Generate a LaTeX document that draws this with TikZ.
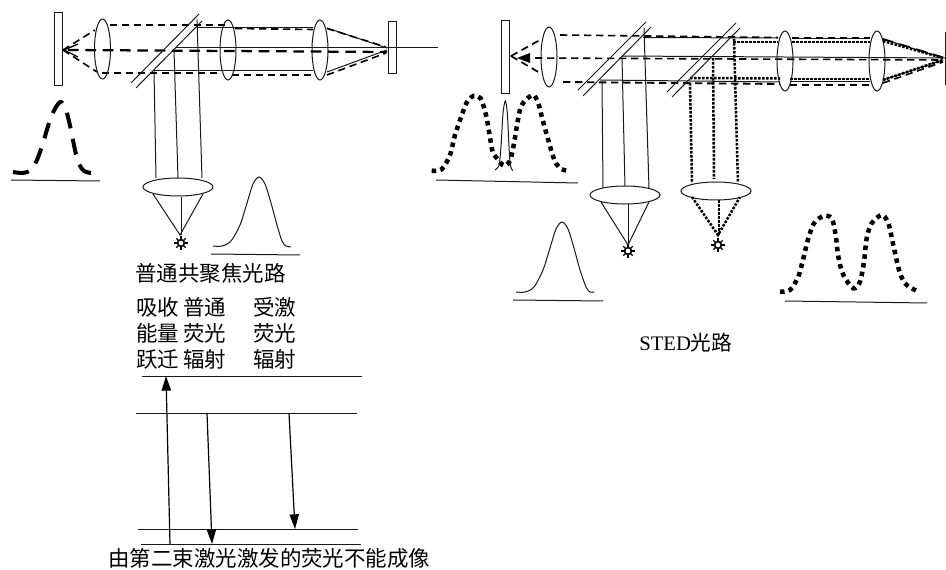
\documentclass[tikz,border=0pt]{standalone}
\usepackage{fontspec}
\setmainfont{Liberation Serif}
\newfontfamily\cjk{Noto Sans CJK SC}[Scale=1]
\usetikzlibrary{arrows.meta}
\tikzset{
  ln/.style={line width=0.75pt,draw=black!90},
  lens/.style={ln,fill=white},
  dsh/.style={line width=1.2pt,dash pattern=on 5.5pt off 3.5pt},
  dshb/.style={line width=1.7pt,dash pattern=on 8pt off 5pt},
  dot/.style={line width=1.9pt,dash pattern=on 1.9pt off 1.1pt},
  bigdash/.style={line width=3pt,dash pattern=on 12pt off 8pt},
  bigdot/.style={line width=3.4pt,dash pattern=on 3.4pt off 3.2pt},
  lab/.style={inner sep=0pt,anchor=west,font=\fontsize{16.1pt}{18pt}\cjk},
  arr/.style={line width=0.9pt,-{Triangle[length=11pt,width=7pt]}},
}
\newcommand{\mysun}[1]{%
  \foreach \ang in {0,45,...,315}{\draw[line width=1pt] #1 ++(\ang:3) -- ++(\ang:3.6);}
  \draw[line width=1.2pt,fill=white] #1 circle (3.4);
}
\begin{document}
\begin{tikzpicture}[x=0.75pt,y=-0.75pt]
\useasboundingbox (0,0) rectangle (946,570);
% ---------- left system
\draw[ln,fill=white] (54.5,12.5) rectangle (62.5,85.5);
\draw[ln,fill=white] (388,22) rectangle (396,74);
\draw[ln] (175,48) -- (438,48);
\draw[ln] (197,28) -- (313,28);
\draw[ln] (327,28) -- (387,48);
\draw[ln] (153,71) -- (313,71);
\draw[ln] (327,72) -- (387,50);
\draw[dsh] (110,25) -- (225,25);
\draw[dsh] (235,28.5) -- (313,29.5);
\draw[dsh] (327,28.5) -- (386,47);
\draw[dsh] (102,73) -- (220,73);
\draw[dsh] (232,75) -- (313,75);
\draw[dsh] (327,75) -- (386,53);
\draw[dshb] (68,50) -- (387,52);
\draw[dsh] (63,50) -- (95,30);
\draw[dsh] (63,50) -- (97,72);
\draw[line width=1pt] (78,44) -- (64,50) -- (78,57);
\draw[ln] (131,83) -- (199,14);
\draw[ln] (136,88) -- (202,21);
\draw[ln] (154,71) -- (156,178);
\draw[ln] (174,50) -- (178,178);
\draw[ln] (197,20) -- (202,178);
\draw[ln] (102.5,49) ellipse (8 and 30);
\draw[ln] (228,50) ellipse (8 and 30);
\draw[ln] (320,50) ellipse (8 and 30);
\draw[lens] (178,187) ellipse (35 and 9);
\draw[ln] (153,194) -- (180,235) -- (203,194);
\draw[ln] (181,197) -- (181,235);
\mysun{(181,243)}
% dashed gaussian
\draw[bigdash] plot[smooth] coordinates {(13,172) (23,173) (31,170) (37,160) (43,143) (50,120) (56,107) (61,102) (66,110) (71,130) (75,150) (79,164) (84,171) (91,173)};
\draw[ln] (11,180) -- (100,181);
% solid gaussian
\draw[ln] plot[smooth] coordinates {(213,246) (222,246) (231,241) (240,225) (247,203) (253,184) (259,177) (265,184) (271,203) (277,225) (282,241) (286,246) (291,247)};
\draw[ln] (211,254) -- (300,255);
% ---------- right system
\draw[ln,fill=white] (501,20.5) rectangle (509.5,94);
\draw[ln] (945,33) -- (946,33) (945,33) -- (945,85) -- (946,85);
\draw[ln] (622,56) -- (945,58);
\draw[ln] (643,37.5) -- (778,38);
\draw[ln] (792,39) -- (870,39);
\draw[ln] (883,39) -- (943,58);
\draw[ln] (600,80) -- (780,82);
\draw[ln] (790,82) -- (870,82);
\draw[ln] (883,80) -- (943,60);
\draw[dsh] (560,35) -- (778,37.5);
\draw[dsh] (792,38) -- (870,38);
\draw[dshb,line width=1.3pt] (883,39) -- (945,58);
\draw[dsh] (535,58) -- (943,60);
\draw[dsh,line width=1.4pt] (563,82) -- (780,84);
\draw[dsh,line width=1.4pt] (790,85) -- (870,85);
\draw[dsh] (883,83) -- (943,62);
\draw[dsh,line width=1.3pt] (511,56) -- (540,40);
\draw[dsh,line width=1.3pt] (511,56) -- (540,73);
\fill (517,58) -- (530,53) -- (530,63) -- cycle;
\draw[dot] (733,42) -- (778,42);
\draw[dot] (792,42) -- (870,42);
\draw[dot] (883,41) -- (943,58);
\draw[dot] (690,78) -- (780,78.5);
\draw[dot] (790,79) -- (870,79);
\draw[dot] (883,80) -- (943,60);
\draw[ln] (578,90) -- (646,22);
\draw[ln] (583,96) -- (651,27);
\draw[ln] (667,92) -- (736,23);
\draw[ln] (672,97) -- (740,28);
\draw[ln] (602,82) -- (603,188);
\draw[ln] (622,58) -- (625,187);
\draw[ln] (644,28) -- (649,188);
\draw[dot] (690,83) -- (692,183);
\draw[dot] (713,58) -- (714,179);
\draw[dot] (734,39) -- (738,183);
\draw[ln] (549,57) ellipse (8 and 30);
\draw[ln] (785,61) ellipse (8 and 30);
\draw[ln] (877,61) ellipse (8 and 30);
\draw[lens] (625,195) ellipse (35 and 9);
\draw[ln] (601,202) -- (628,245) -- (649,202);
\draw[ln] (628,204) -- (628,245);
\mysun{(628,251)}
\draw[lens] (716,191) ellipse (35 and 9);
\draw[dot] (692,197) -- (718,235) -- (740,197);
\draw[dot] (719,200) -- (719,235);
\mysun{(718,245)}
% left double hump
\begin{scope}[shift={(430,0)},xscale=1/3,yscale=1/3]
\draw[bigdot] plot[smooth] coordinates {(5,512) (35,508) (60,465) (75,405) (92,355) (110,308) (130,288) (152,295) (168,345) (178,400) (188,455) (205,480) (222,497) (240,482) (252,430) (262,370) (272,322) (287,300) (310,285) (325,310) (338,360) (352,410) (367,462) (378,490) (395,508) (418,512)};
\draw[ln] plot[smooth] coordinates {(195,510) (207,495) (213,440) (219,340) (226,303) (232,340) (237,440) (241,495) (248,512)};
\end{scope}
\draw[ln] (436,180) -- (578,183);
% solid gaussian 2
\draw[ln] plot[smooth] coordinates {(516,292) (525,292) (534,287) (543,270) (550,248) (556,229) (562,222) (568,229) (574,248) (580,270) (586,287) (590,292) (594,292)};
\draw[ln] (513,300) -- (603,301);
% right double hump
\begin{scope}[shift={(670,0)},xscale=1/3,yscale=1/3]
\draw[bigdot] plot[smooth] coordinates {(330,875) (360,870) (385,830) (400,775) (415,715) (432,670) (460,648) (485,655) (497,705) (505,770) (520,825) (550,865) (570,845) (582,785) (590,715) (605,670) (635,645) (655,670) (672,745) (690,820) (710,855) (745,875)};
\end{scope}
\draw[ln] (785,301) -- (927,303);
% ---------- text
\node[lab] (t1) at (135,273) {普通共聚焦光路};
\node[lab] (a1) at (136,307) {吸收};
\node[lab] (a2) at (136,333) {能量};
\node[lab] (a3) at (136,359) {跃迁};
\node[lab] (b1) at (183,307) {普通};
\node[lab] (b2) at (183,333) {荧光};
\node[lab] (b3) at (183,359) {辐射};
\node[lab] (c1) at (253,307) {受激};
\node[lab] (c2) at (253,333) {荧光};
\node[lab] (c3) at (253,359) {辐射};
\node[lab] (t2) at (108,558) {由第二束激光激发的荧光不能成像};
\node[inner sep=0pt,anchor=west,font=\fontsize{15.5pt}{17pt}\selectfont] (t3) at (639,343) {STED{\cjk 光路}};
% ---------- levels
\coordinate (u0) at (170,544); \coordinate (u1) at (166,376);
\coordinate (d0) at (207,413); \coordinate (d1) at (212,544);
\coordinate (e0) at (289,413); \coordinate (e1) at (295,529);
\draw[ln] (142,376) -- (362,376);
\draw[ln] (136,413) -- (357,413);
\draw[ln] (138,529) -- (358,529);
\draw[ln] (141,544) -- (361,544);
\draw[arr] (u0) -- (u1);
\draw[arr] (d0) -- (d1);
\draw[arr] (e0) -- (e1);
\end{tikzpicture}
\end{document}
